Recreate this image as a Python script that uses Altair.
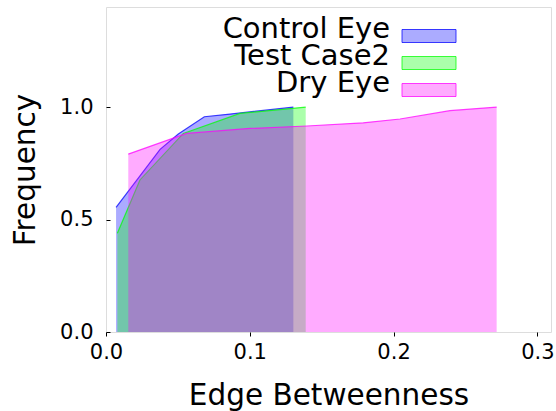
import altair as alt
import pandas as pd

# Cumulative frequency of edge betweenness for each group
series_names = ["Control Eye", "Test Case2", "Dry Eye"]
series_colors = ["#0000ff", "#00ff00", "#ff00ff"]

control_x = [0.0070, 0.0376, 0.0503, 0.0684, 0.0862, 0.1303]
control_y = [0.554, 0.812, 0.880, 0.957, 0.969, 1.0]

test_x = [0.0079, 0.0236, 0.0538, 0.0932, 0.1389]
test_y = [0.439, 0.676, 0.883, 0.972, 1.0]

dry_x = [0.0155, 0.0561, 0.1001, 0.1396, 0.1789, 0.2045, 0.2392, 0.2717]
dry_y = [0.791, 0.883, 0.905, 0.916, 0.930, 0.947, 0.984, 1.0]

x_ticks = [0.0, 0.1, 0.2, 0.3]
y_ticks = [0.0, 0.5, 1.0]

FONT = "DejaVu Sans"
FILL_ALPHA = 0.33
PLOT_W, PLOT_H = 445, 325

frames = []
for name, xs, ys in zip(series_names, [control_x, test_x, dry_x], [control_y, test_y, dry_y]):
    frames.append(pd.DataFrame({"series": name, "x": xs, "y": ys}))
df = pd.concat(frames, ignore_index=True)

x_scale = alt.Scale(domain=[0, 0.3095], nice=False, zero=False)
y_scale = alt.Scale(domain=[0, 1.445], nice=False, zero=False)

x_axis = alt.Axis(
    title="Edge Betweenness", values=x_ticks, format=".1f", grid=False, domain=False,
    ticks=True, tickSize=4, tickColor="black", tickWidth=1,
    labelFont=FONT, labelFontSize=21, labelColor="black", labelPadding=5,
    labelFlush=False, labelOverlap=False,
    titleFont=FONT, titleFontSize=29.5, titleFontWeight="normal", titleColor="black",
    titlePadding=19,
)
y_axis_left = alt.Axis(
    title="Frequency", values=y_ticks, format=".1f", grid=False, domain=False,
    ticks=False, labelFont=FONT, labelFontSize=21, labelColor="black",
    labelPadding=13, labelFlush=False, labelOverlap=False,
    titleFont=FONT, titleFontSize=29.5, titleFontWeight="normal", titleColor="black",
    titlePadding=19,
)
# inward-pointing y ticks: a right-oriented axis shifted onto the left edge
y_axis_ticks = alt.Axis(
    title=None, values=y_ticks, labels=False, grid=False, domain=False,
    ticks=True, tickSize=4, tickColor="black", tickWidth=1, orient="right", offset=-PLOT_W,
)

color = alt.Color(
    "series:N", scale=alt.Scale(domain=series_names, range=series_colors), legend=None,
)

layers = []
for i, name in enumerate(series_names):
    sub = alt.Chart(df).transform_filter(alt.datum.series == name)
    if i == 0:
        xa, ya = x_axis, y_axis_left
    else:
        xa, ya = alt.Undefined, None
    area = sub.mark_area(fillOpacity=FILL_ALPHA, interpolate="linear").encode(
        x=alt.X("x:Q", scale=x_scale, axis=xa),
        y=alt.Y("y:Q", scale=y_scale, axis=ya, stack=None),
        color=color,
    )
    line = sub.mark_line(strokeWidth=1.2, strokeOpacity=0.75, interpolate="linear").encode(
        x=alt.X("x:Q", scale=x_scale),
        y=alt.Y("y:Q", scale=y_scale, axis=y_axis_ticks if i == 0 else None),
        color=color,
    )
    layers += [area, line]

# legend in the upper right: right-aligned labels with a swatch to their right
LEG_TEXT_RIGHT = 284
LEG_SW_X0, LEG_SW_X1 = 296, 350
LEG_ROW0, LEG_ROW_STEP = 29, 27
for i, (name, col) in enumerate(zip(series_names, series_colors)):
    cy = LEG_ROW0 + i * LEG_ROW_STEP
    entry = alt.Chart(pd.DataFrame({"label": [name]}))
    swatch = entry.mark_rect(
        fill=col, fillOpacity=FILL_ALPHA, stroke=col, strokeOpacity=0.75, strokeWidth=1
    ).encode(
        x=alt.value(LEG_SW_X0), x2=alt.value(LEG_SW_X1),
        y=alt.value(cy - 6.5), y2=alt.value(cy + 6.5),
    )
    label = entry.mark_text(
        align="right", baseline="alphabetic", font=FONT, fontSize=29, color="black"
    ).encode(
        x=alt.value(LEG_TEXT_RIGHT), y=alt.value(cy + 1.5), text="label:N",
    )
    layers += [swatch, label]

chart = (
    alt.layer(*layers)
    .resolve_axis(y="independent")
    .properties(
        width=PLOT_W, height=PLOT_H,
        autosize=alt.AutoSizeParams(type="none"),
        padding={"left": 106, "top": 7, "right": 5, "bottom": 79},
    )
    .configure_view(stroke="black", strokeWidth=1.5)
    .configure(background="white")
)

chart.save("out.html", embed_options={"renderer": "svg", "actions": False})
